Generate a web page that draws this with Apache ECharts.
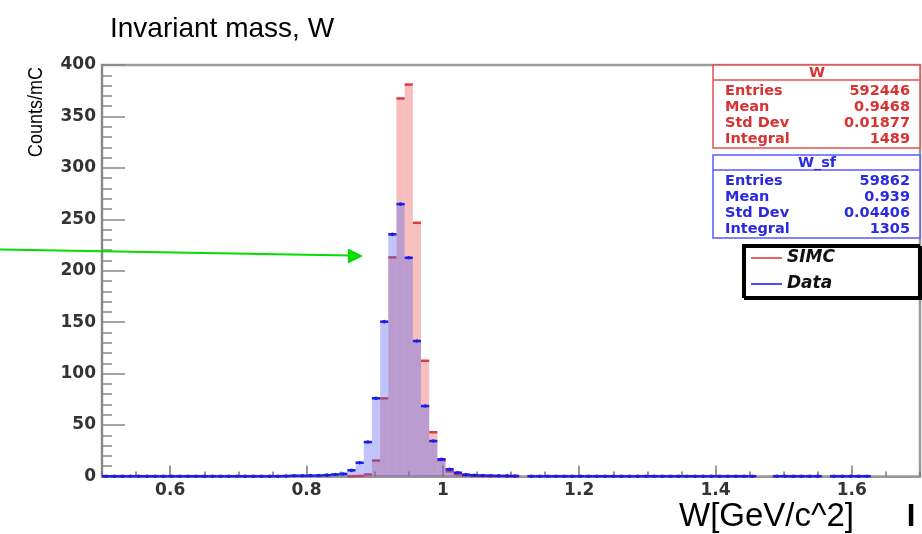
<!DOCTYPE html>
<html>
<head>
<meta charset="utf-8">
<script src="https://cdn.jsdelivr.net/npm/echarts@6/dist/echarts.min.js"></script>
<style>html,body{margin:0;padding:0;background:#fff}#c{width:922px;height:534px}</style>
</head>
<body>
<div id="c"></div>
<script>
// ---- histogram binning (0.5 .. 1.7, 100 bins) ----
const binLow = 0.5;
const binWidth = 0.012;

// SIMC (red) counts per bin
const simcCounts = [
  0,0,0,0,0,0,0,0,0,0,
  0,0,0,0,0,0,0,0,0,0,
  0,0,0,0,0,0,0,0,0,0,
  0.3,0.5,2,15.5,76,213,367.5,381,246.6,112.5,
  43,16,5,2.2,1,0.7,0.5,0.4,0.3,0.3,
  0.3,0,0,0,0,0,0,0,0,0,
  0,0,0,0,0,0,0,0,0,0,
  0,0,0,0,0,0,0,0,0,0,
  0,0,0,0,0,0,0,0,0,0,
  0,0,0,0,0,0,0,0,0,0
];

// Data (blue) counts per bin
const dataCounts = [
  0.3,0.3,0.3,0.3,0.3,0.3,0.3,0.3,0.3,0.3,
  0.3,0.3,0.3,0.3,0.3,0.3,0.3,0.3,0.3,0.3,
  0.3,0.3,0.5,0.8,0.8,0.9,1.0,1.3,2.0,2.5,
  6,13.4,33.5,76,150.5,235.4,264.8,212.6,131.7,68.5,
  34.5,16.7,7,3.7,1.8,1.2,1.0,0.8,0.7,0.6,
  0.5,0,0.3,0.3,0.3,0.3,0.3,0.3,0.3,0.3,
  0.3,0.3,0.3,0.3,0.3,0.3,0.3,0.3,0.3,0.3,
  0.3,0.3,0.3,0.3,0.3,0.3,0.3,0.3,0.3,0.3,
  0,0,0.3,0.3,0.3,0.3,0.3,0.3,0,0.3,
  0.3,0.3,0.3,0.3,0,0,0,0,0,0
];

const xTickValues = [0.6, 0.8, 1.0, 1.2, 1.4, 1.6];
const xTickLabels = ['0.6', '0.8', '1', '1.2', '1.4', '1.6'];

const statNames = ['Entries', 'Mean', 'Std Dev', 'Integral'];
const simcStats = ['592446', '0.9468', '0.01877', '1489'];
const dataStats = ['59862', '0.939', '0.04406', '1305'];

const seriesNames = ['SIMC', 'Data'];
const statTitles = ['W', 'W_sf'];

// ---- rendering ----
const chart = echarts.init(document.getElementById('c'), null, {renderer: 'canvas'});

function histRenderer(fill, stroke, dot) {
  return function (params, api) {
    const i = api.value(2);
    const v = api.value(1);
    if (!(v > 0)) return null;
    const xl = binLow + i * binWidth;
    const xr = xl + binWidth;
    const p0 = api.coord([xl, 0]);
    const p1 = api.coord([xr, v]);
    const children = [
      {type: 'rect', shape: {x: p0[0], y: p1[1], width: p1[0] - p0[0], height: p0[1] - p1[1]},
       style: {fill: fill}},
      {type: 'line', shape: {x1: p0[0], y1: p1[1], x2: p1[0], y2: p1[1]},
       style: {stroke: stroke, lineWidth: 2.5}}
    ];
    if (dot) {
      children.push({type: 'circle', shape: {cx: (p0[0] + p1[0]) / 2, cy: p1[1], r: 1.8},
        style: {fill: stroke}});
    }
    return {type: 'group', children: children};
  };
}

function toData(arr) {
  return arr.map((v, i) => [binLow + (i + 0.5) * binWidth, v, i]);
}

function statBox(top, title, values, stroke, color) {
  const f = 'bold 14.5px "DejaVu Sans"';
  const kids = [
    {type: 'rect', shape: {x: 0, y: 0, width: 207, height: 83}, style: {fill: '#fff', stroke: stroke, lineWidth: 1.5}},
    {type: 'line', shape: {x1: 0, y1: 15, x2: 207, y2: 15}, style: {stroke: stroke, lineWidth: 1.5}},
    {type: 'text', x: 104, y: 8, style: {text: title, font: f, fill: color, align: 'center', verticalAlign: 'middle', textAlign: 'center', textVerticalAlign: 'middle'}}
  ];
  const rowsY = [26, 42, 58, 74];
  statNames.forEach((n, k) => {
    kids.push({type: 'text', x: 12, y: rowsY[k], style: {text: n, font: f, fill: color, align: 'left', verticalAlign: 'middle', textAlign: 'left', textVerticalAlign: 'middle'}});
    kids.push({type: 'text', x: 197, y: rowsY[k], style: {text: values[k], font: f, fill: color, align: 'right', verticalAlign: 'middle', textAlign: 'right', textVerticalAlign: 'middle'}});
  });
  return {type: 'group', x: 713, y: top, children: kids, z: 50};
}

const tickFont = {fontFamily: 'DejaVu Sans', fontWeight: 'bold', fontSize: 17, color: '#333'};

const option = {
  animation: false,
  backgroundColor: '#fff',
  title: {
    text: 'Invariant mass, W', left: 105, top: 10,
    textStyle: {fontFamily: 'Liberation Sans', fontSize: 28, fontWeight: 'normal', color: '#000'}
  },
  grid: {left: 102, right: 2, top: 65, bottom: 57.5, show: true, borderColor: '#9a9a9a', borderWidth: 2.5, backgroundColor: 'transparent'},
  legend: {
    left: 743, top: 245, orient: 'vertical', icon: 'rect', itemWidth: 31, itemHeight: 2, itemGap: 6,
    padding: [3, 84, 3, 8], borderColor: '#000', borderWidth: 2, backgroundColor: '#fff',
    shadowColor: '#000', shadowOffsetX: 2, shadowOffsetY: 2, shadowBlur: 0,
    selectedMode: false, data: seriesNames,
    textStyle: {fontFamily: 'DejaVu Sans', fontWeight: 'bold', fontStyle: 'italic', fontSize: 17, color: '#111', lineHeight: 20}
  },
  xAxis: [
    {
      type: 'value', min: 0.5, max: 1.7, position: 'bottom',
      axisLine: {show: true, lineStyle: {color: '#999', width: 2}},
      axisTick: {show: true, inside: true, length: 11, customValues: xTickValues, lineStyle: {color: '#777', width: 1.5}},
      axisLabel: Object.assign({margin: 6, customValues: xTickValues,
        formatter: function (v) { const k = xTickValues.findIndex(t => Math.abs(t - v) < 1e-6); return k >= 0 ? xTickLabels[k] : ''; }}, tickFont),
      splitLine: {show: false}
    },
    {
      type: 'value', min: 0.5, max: 1.7, interval: 0.05, position: 'bottom',
      axisLine: {show: false},
      axisTick: {show: true, inside: true, length: 5, lineStyle: {color: '#777', width: 1.5}},
      axisLabel: {show: false}, splitLine: {show: false}
    }
  ],
  yAxis: {
    type: 'value', min: 0, max: 400, interval: 50,
    axisLine: {show: true, lineStyle: {color: '#888', width: 2}},
    axisTick: {show: true, inside: true, length: 23, lineStyle: {color: '#888', width: 1.5}},
    minorTick: {show: true, splitNumber: 5, length: 10, lineStyle: {color: '#888', width: 1.5}},
    axisLabel: Object.assign({margin: 6}, tickFont),
    splitLine: {show: false}
  },
  series: [
    {
      name: seriesNames[0], type: 'custom', xAxisIndex: 0, clip: false,
      itemStyle: {color: '#e86060'},
      renderItem: histRenderer('rgba(235,100,100,0.42)', '#dc3c3c', false),
      encode: {x: 0, y: 1},
      data: toData(simcCounts)
    },
    {
      name: seriesNames[1], type: 'custom', xAxisIndex: 0, clip: false,
      itemStyle: {color: '#4d4dff'},
      renderItem: histRenderer('rgba(90,100,240,0.38)', '#1c1ce6', true),
      encode: {x: 0, y: 1},
      data: toData(dataCounts)
    }
  ],
  graphic: [
    statBox(65, statTitles[0], simcStats, '#e65050', '#d83232'),
    statBox(155, statTitles[1], dataStats, '#5a5aff', '#2a2ae0'),
    {type: 'text', x: 36, y: 112, rotation: Math.PI / 2, scaleX: 0.86, z: 50,
     style: {text: 'Counts/mC', font: '21px "Liberation Sans"', fill: '#000', align: 'center', verticalAlign: 'middle', textAlign: 'center', textVerticalAlign: 'middle'}},
    {type: 'text', x: 679, y: 517, z: 50,
     style: {text: 'W[GeV/c^2]', font: '33px "Liberation Sans"', fill: '#000', align: 'left', verticalAlign: 'middle', textAlign: 'left', textVerticalAlign: 'middle'}},
    {type: 'text', x: 911, y: 517, z: 50,
     style: {text: 'I', font: 'bold 31px "Liberation Sans"', fill: '#000', align: 'center', verticalAlign: 'middle', textAlign: 'center', textVerticalAlign: 'middle'}},
    {type: 'line', z: 60, shape: {x1: 0, y1: 249.5, x2: 350, y2: 255.6}, style: {stroke: '#00dd00', lineWidth: 2}},
    {type: 'polygon', z: 60, shape: {points: [[363, 256], [348, 248.5], [348, 263.5]]}, style: {fill: '#00dd00'}}
  ]
};

chart.setOption(option);
</script>
</body>
</html>
